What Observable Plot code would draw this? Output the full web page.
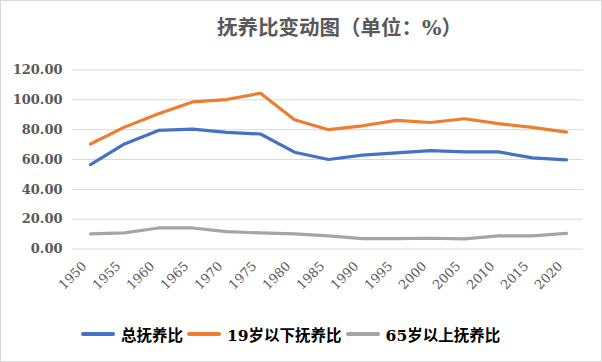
<!DOCTYPE html>
<html>
<head>
<meta charset="utf-8">
<script src="https://cdn.jsdelivr.net/npm/d3@7"></script>
<script src="https://cdn.jsdelivr.net/npm/@observablehq/plot@0.6"></script>
<style>
  html, body { margin: 0; padding: 0; background: #fff; }
  #frame { position: relative; width: 602px; height: 362px; box-sizing: border-box; border: 1px solid #d9d9d9; background: #fff; overflow: hidden; }
  #title { position: absolute; left: 216px; top: 14px; font-family: "DejaVu Serif", "Noto Sans CJK SC", serif; font-weight: bold; font-size: 20.5px; line-height: 26px; color: #595959; white-space: nowrap; }
  #chart { position: absolute; left: 0; top: 49px; }
  #legend { position: absolute; left: 80px; top: 320px; display: flex; align-items: center; height: 26px; font-family: "DejaVu Serif", "Noto Sans CJK SC", serif; font-weight: bold; font-size: 15.5px; color: #000; white-space: nowrap; }
  .sw { display: inline-block; width: 34px; height: 3.5px; border-radius: 2px; margin-right: 6px; }
  .lab { margin-right: 4px; }
</style>
</head>
<body>
<div id="frame">
  <div id="title">抚养比变动图（单位：%）</div>
  <div id="chart"></div>
  <div id="legend"></div>
</div>
<script>
const years = ["1950","1955","1960","1965","1970","1975","1980","1985","1990","1995","2000","2005","2010","2015","2020"];
const totalRatio = [56.6, 70.4, 79.5, 80.4, 78.2, 77.1, 64.9, 60.0, 62.9, 64.5, 66.0, 65.1, 65.1, 61.1, 59.7];
const youngRatio = [70.4, 81.7, 90.6, 98.6, 100.2, 104.4, 86.7, 80.0, 82.6, 86.2, 84.8, 87.3, 84.0, 81.5, 78.4];
const oldRatio = [10.1, 10.8, 14.1, 14.1, 11.6, 10.8, 10.1, 8.8, 7.0, 7.0, 7.2, 6.8, 8.8, 8.8, 10.5];
const seriesNames = ["总抚养比", "19岁以下抚养比", "65岁以上抚养比"];
const seriesColors = ["#4472C4", "#ED7D31", "#A5A5A5"];
const yTicks = [0, 20, 40, 60, 80, 100, 120];

const seriesValues = [totalRatio, youngRatio, oldRatio];
const rows = [];
seriesNames.forEach((name, i) => {
  years.forEach((yr, j) => rows.push({series: name, year: yr, value: seriesValues[i][j]}));
});

const chart = Plot.plot({
  width: 600,
  height: 256,
  marginLeft: 71,
  marginRight: 18,
  marginTop: 19.5,
  marginBottom: 57.5,
  style: {fontFamily: "DejaVu Serif, serif", fontSize: "13px", color: "#595959", background: "transparent"},
  x: {type: "point", domain: years, padding: 0.5, label: null},
  y: {domain: [0, 120], label: null},
  color: {domain: seriesNames, range: seriesColors},
  marks: [
    Plot.ruleY(yTicks, {stroke: "#d9d9d9", strokeWidth: 1}),
    Plot.axisY({ticks: yTicks, tickFormat: d => d.toFixed(2), tickSize: 0, tickPadding: 10, fontWeight: "bold", label: null}),
    Plot.axisX({tickRotate: -45, tickSize: 0, tickPadding: 15, dx: -6, label: null}),
    Plot.line(rows, {x: "year", y: "value", z: "series", stroke: "series", strokeWidth: 3.2, strokeLinecap: "round", strokeLinejoin: "round"})
  ]
});
document.getElementById("chart").appendChild(chart);

const legend = document.getElementById("legend");
seriesNames.forEach((name, i) => {
  const sw = document.createElement("span");
  sw.className = "sw";
  sw.style.background = seriesColors[i];
  const lab = document.createElement("span");
  lab.className = "lab";
  lab.textContent = name;
  legend.appendChild(sw);
  legend.appendChild(lab);
});
</script>
</body>
</html>
